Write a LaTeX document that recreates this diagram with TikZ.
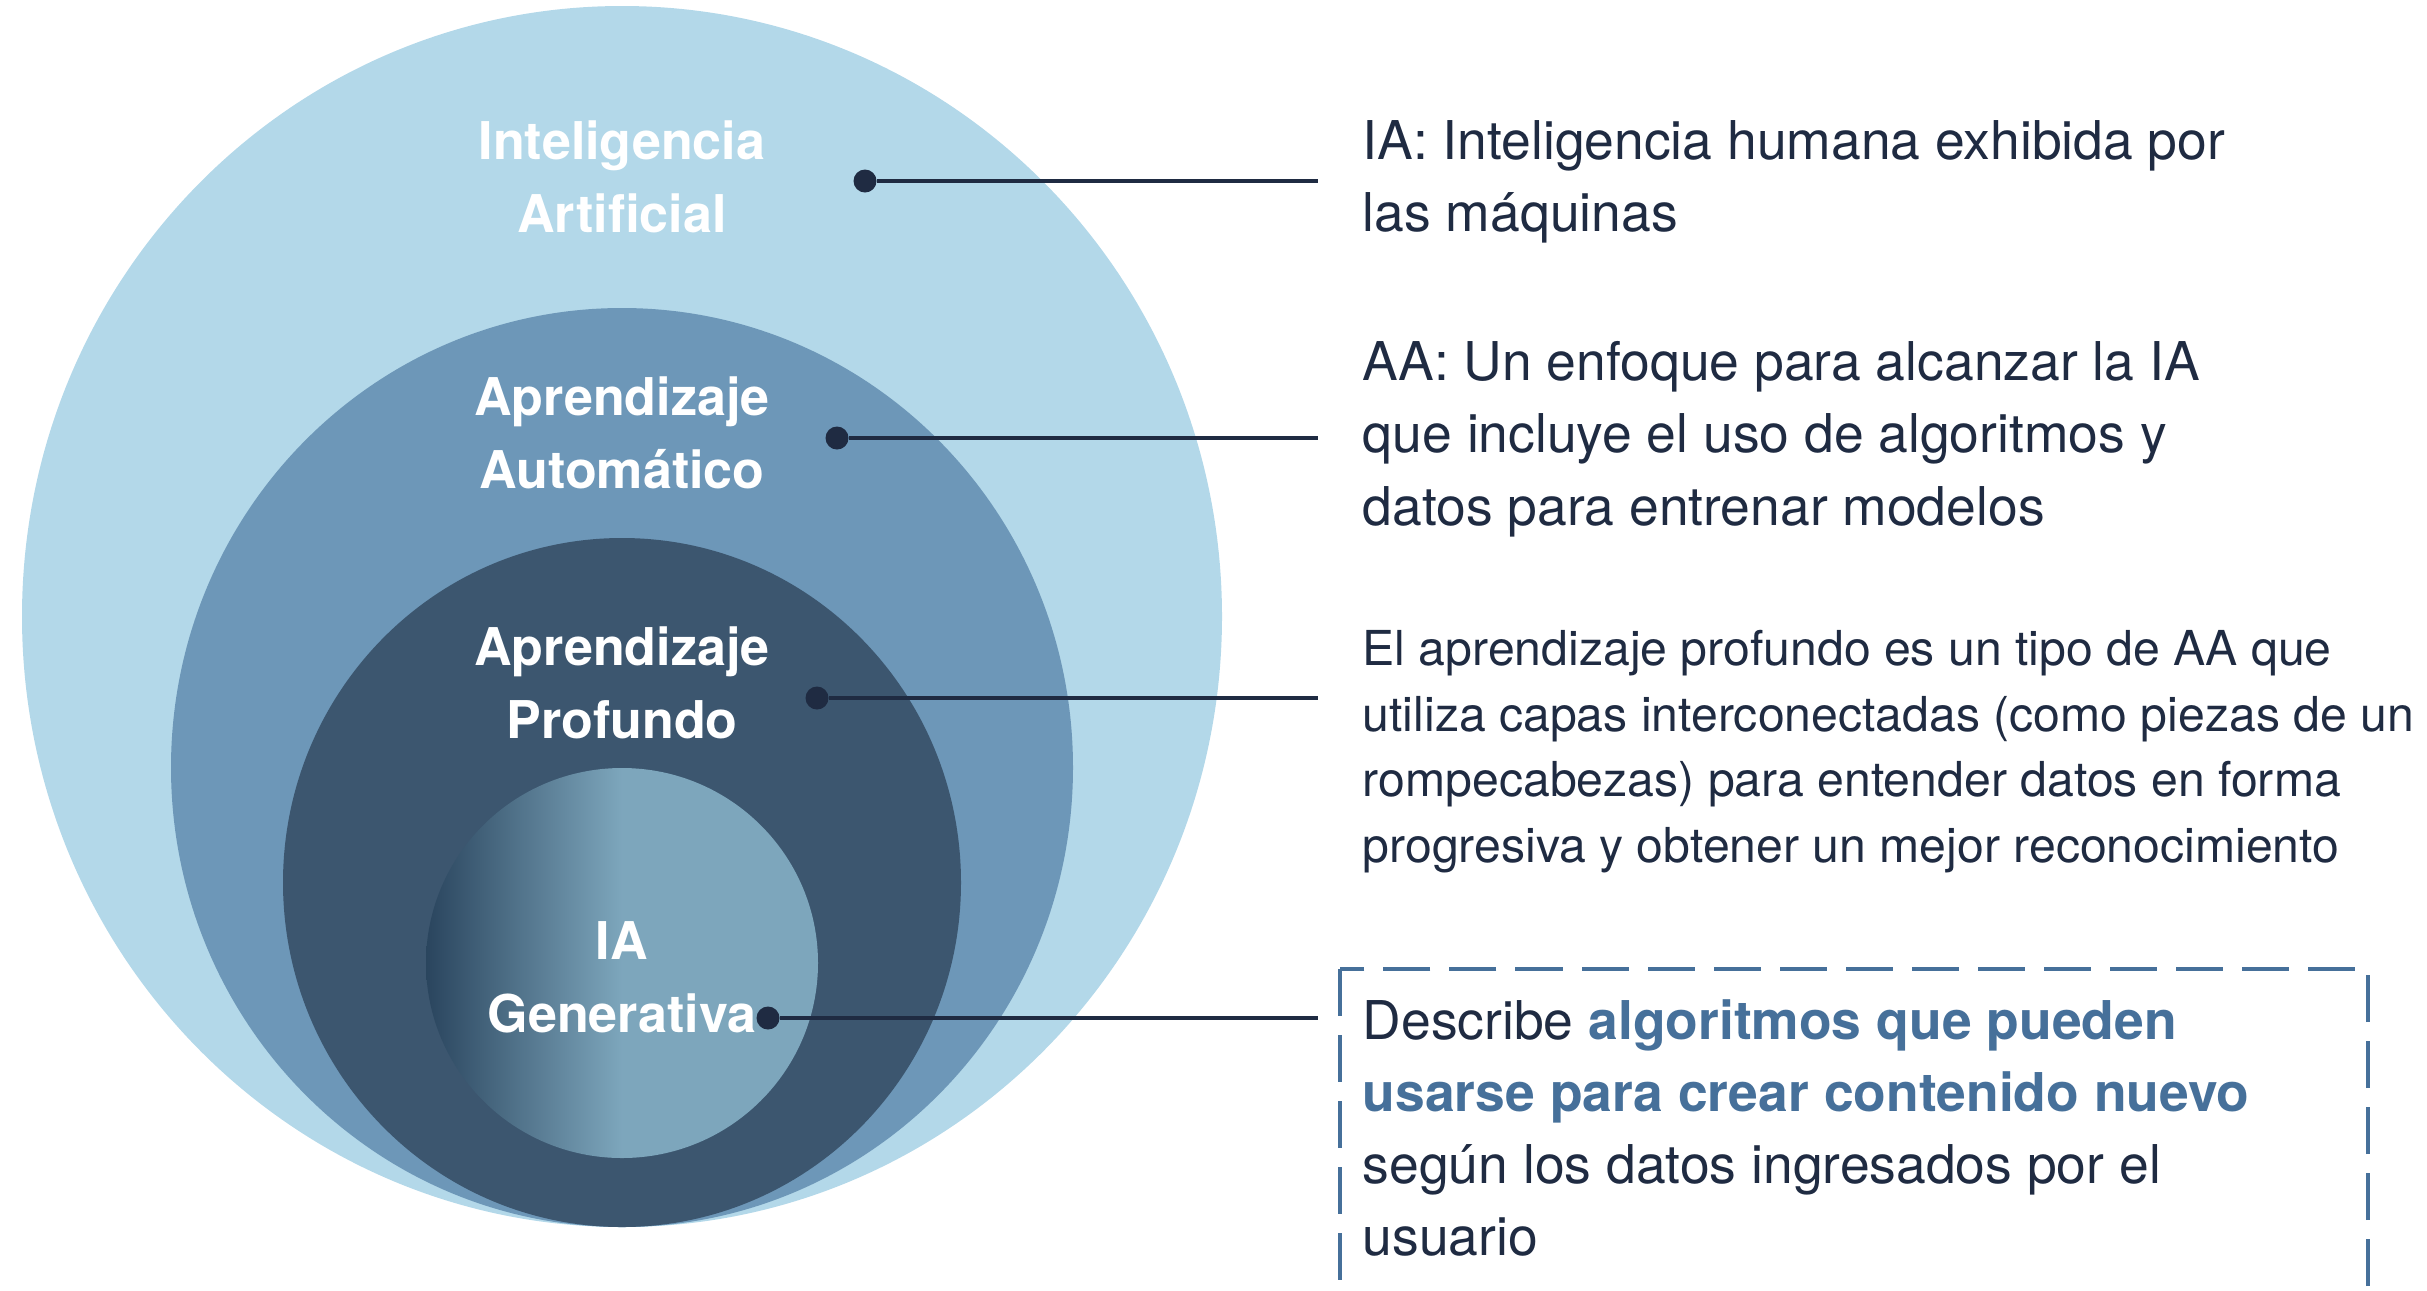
\documentclass[tikz,border=0pt]{standalone}
\usepackage{fontspec}
\setmainfont{TeX Gyre Heros}
\usetikzlibrary{positioning}
\definecolor{ringia}{HTML}{B3D8E9}
\definecolor{ringaa}{HTML}{6D97B8}
\definecolor{ringap}{HTML}{3C566F}
\definecolor{gendark}{HTML}{2A455E}
\definecolor{genlight}{HTML}{7DA6BC}
\definecolor{ink}{HTML}{1F2B42}
\definecolor{accent}{HTML}{46709A}
\pgfdeclarehorizontalshading{genshade}{100bp}{color(0bp)=(gendark); color(25bp)=(gendark); color(50bp)=(genlight); color(100bp)=(genlight)}

\begin{document}
\begin{tikzpicture}[x=0.01cm,y=-0.01cm]
\tikzstyle{lbl}=[text=white,align=center,inner sep=0pt,anchor=north,font=\fontsize{14.8pt}{20.8pt}\selectfont\bfseries]
\tikzstyle{desc}=[text=ink,align=left,inner xsep=0.22cm,inner ysep=0pt,anchor=north west,font=\fontsize{15.2pt}{20.5pt}\selectfont]
\tikzstyle{dot}=[circle,fill=ink,inner sep=0pt,minimum size=0.23cm]
\tikzstyle{leader}=[draw=ink,line width=1.2pt,shorten >=0.22cm]
\tikzstyle{dashbox}=[draw=accent,line width=1.3pt,dash pattern=on 0.47cm off 0.19cm]

\clip (0,0) rectangle (2427,1290);

\fill[ringia] (622,616.5) ellipse [x radius=600,y radius=610.5];
\fill[ringaa] (622,767.5) ellipse [x radius=451,y radius=459.5];
\fill[ringap] (622,882.5) ellipse [x radius=339,y radius=344.5];
\shade[shading=genshade] (622,963) ellipse [x radius=196,y radius=195];

\node[lbl] (lblia) at (622,120) {Inteligencia\\Artificial};
\node[lbl] (lblaa) at (622,376) {Aprendizaje\\Automático};
\node[lbl] (lblap) at (622,626) {Aprendizaje\\Profundo};
\node[lbl] (lblgen) at (622,921) {IA\\Generativa};

\node[dot] (dotia) at (865,181) {};
\node[dot] (dotaa) at (837,438) {};
\node[dot] (dotap) at (817,698) {};
\node[dot] (dotgen) at (768,1018) {};

\node[desc] (descia) at (1340,120) {IA: Inteligencia humana exhibida por\\las máquinas};
\node[desc] (descaa) at (1340,341) {AA: Un enfoque para alcanzar la IA\\que incluye el uso de algoritmos y\\datos para entrenar modelos};
\node[desc,font=\fontsize{13.7pt}{18.6pt}\selectfont] (descap) at (1340,630) {El aprendizaje profundo es un tipo de AA que\\utiliza capas interconectadas (como piezas de un\\rompecabezas) para entender datos en forma\\progresiva y obtener un mejor reconocimiento};
\node[desc,inner ysep=0.30cm] (descgen) at (1340,969) {Describe \textcolor{accent}{\bfseries algoritmos que pueden}\\\textcolor{accent}{\bfseries usarse para crear contenido nuevo}\\según los datos ingresados por el\\usuario};
\coordinate (boxfoot) at (2368,1340);
\draw[dashbox] (descgen.north west) rectangle (boxfoot);

\draw[leader] (dotia) -- (dotia -| descia.west);
\draw[leader] (dotaa) -- (dotaa -| descaa.west);
\draw[leader] (dotap) -- (dotap -| descap.west);
\draw[leader] (dotgen) -- (dotgen -| descgen.west);
\end{tikzpicture}
\end{document}
